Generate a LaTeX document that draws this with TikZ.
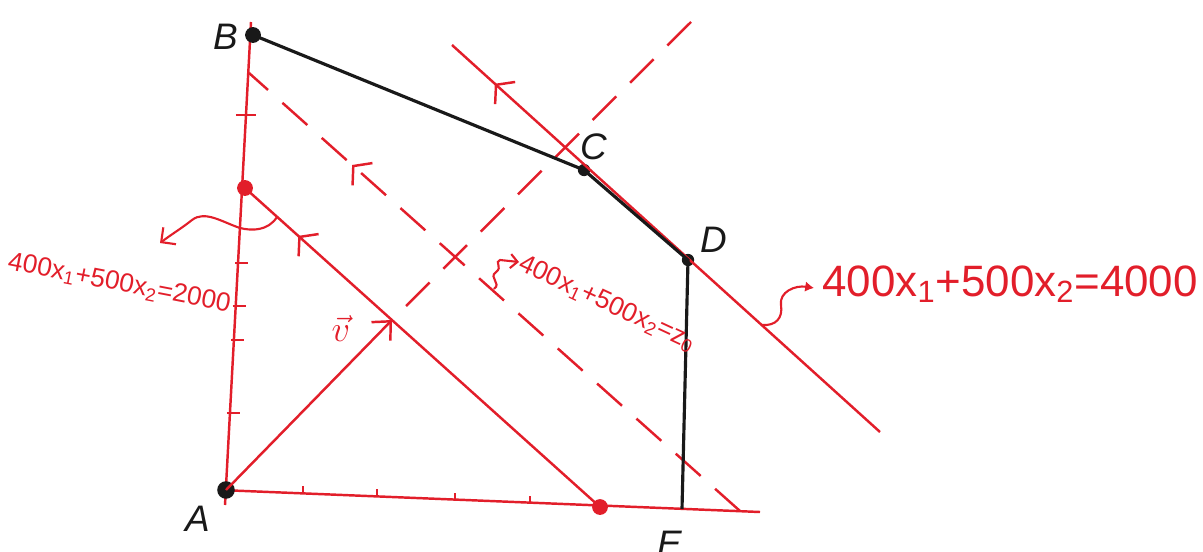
\documentclass[tikz,border=0pt]{standalone}
\usepackage{fontspec}
\setmainfont{Liberation Sans}
\usepackage{xcolor}
\usetikzlibrary{arrows.meta,decorations.markings,calc}

\definecolor{penred}{RGB}{226,30,42}
\definecolor{penblack}{RGB}{25,25,25}

\begin{document}
\begin{tikzpicture}[
    x=0.02cm, y=-0.02cm,
    redline/.style={draw=penred, line width=1.4pt},
    dashline/.style={redline, dash pattern=on 19pt off 11pt},
    blackline/.style={draw=penblack, line width=1.8pt},
    tick/.style={draw=penred, line width=1.2pt},
    chevron/.style={postaction={decorate}, decoration={markings, mark=at position #1 with {\arrow[penred, line width=1.4pt]{Straight Barb[length=7pt, width=17pt]}}}},
    vecarrow/.style={redline, -{Straight Barb[length=8pt, width=15pt]}},
    pointer/.style={draw=penred, line width=1.2pt},
    dot/.style={circle, inner sep=0pt, minimum size=#1, fill=penblack},
    reddot/.style={circle, inner sep=0pt, minimum size=#1, fill=penred},
    letter/.style={text=penblack, font=\fontsize{21}{24}\selectfont\itshape},
    eqn/.style={text=penred, inner sep=0pt, anchor=west}
]
\useasboundingbox (0,0) rectangle (1203,551);

% axes
\coordinate (yBot) at (225,505);
\coordinate (yTop) at (251,22);
\coordinate (xStart) at (220,490);
\coordinate (xEnd) at (760,512);
\draw[redline] (yBot) -- (yTop);
\draw[redline] (xStart) -- (xEnd);
\foreach \ty in {263,306,340,413}
    \draw[tick] ($(yBot)!{(505-\ty)/483}!(yTop)$) ++(-3,0) -- ++(13,0);
\draw[tick] ($(yBot)!{(505-115)/483}!(yTop)$) ++(-10,0) -- ++(20,0);
\foreach \tx in {303,377,455,530}
    \draw[tick] ($(xStart)!{(\tx-220)/540}!(xEnd)$) -- ++(0,-7);

% points
\node[dot=10pt] (A) at (226,490) {};
\node[dot=9pt] (B) at (253,35) {};
\node[dot=7pt] (C) at (584,170) {};
\node[dot=7pt] (D) at (688,260) {};
\coordinate (E) at (682,509);
\node[reddot=9pt] (y2000) at (245,188) {};
\node[reddot=9pt] (x2000) at (600,507) {};
\coordinate (vtip) at (392,320);
\coordinate (perpEnd) at (695,18);
\coordinate (z0Start) at (249,73);
\coordinate (z0End) at (740,511);
\coordinate (top4000) at (452,45);
\coordinate (bot4000) at (880,432);

% level lines
\draw[redline, chevron=0.85] (x2000.center) -- (y2000.center);
\draw[dashline, chevron=0.79] (z0End) -- (z0Start);
\draw[redline, chevron=0.9] (bot4000) -- (top4000);
\draw[dashline] (vtip) ++(14,-14) -- (perpEnd);
\draw[vecarrow] (A.center) -- (vtip);

% feasible region
\draw[blackline] (B.center) -- (C.center) -- (D.center) -- (E);

% labels
\node[letter] (labA) at (198,519) {A};
\node[letter] (labB) at (226,37) {B};
\node[letter] (labC) at (594,147) {C};
\node[letter] (labD) at (714,240) {D};
\node[letter] (labE) at (670,544) {E};
\node[text=penred, font=\fontsize{22}{24}\selectfont] (labv) at (341,329) {$\vec{v}$};

% pointers to the lines
\coordinate (arc2000) at (277,217);
\coordinate (tip2000) at (160,243);
\draw[pointer, -{Straight Barb[length=6pt, width=12pt]}] (arc2000) .. controls (268,231) and (252,231) .. (240,228)
    .. controls (222,222) and (205,210) .. (192,220) .. controls (182,228) and (172,234) .. (tip2000);
\node[eqn, rotate=-11, font=\fontsize{15}{18}\selectfont] (eq2000) at (8,262) {400x\textsubscript{1}+500x\textsubscript{2}=2000};

\coordinate (arc4000) at (762,325);
\coordinate (tip4000) at (814,288);
\draw[pointer, -{Latex[length=5pt, width=6pt]}] (arc4000) .. controls (776,326) and (783,318) .. (781,305)
    .. controls (779,292) and (795,285) .. (tip4000);
\node[eqn, font=\fontsize{25}{28}\selectfont] (eq4000) at (822,284) {400x\textsubscript{1}+500x\textsubscript{2}=4000};

\coordinate (arcz0) at (494,289);
\coordinate (tipz0) at (519,262);
\draw[pointer, -{Straight Barb[length=4pt, width=8pt]}] (arcz0) .. controls (502,283) and (488,278) .. (496,272)
    .. controls (503,267) and (494,262) .. (500,260) -- (tipz0);
\node[eqn, rotate=-25, font=\fontsize{15}{18}\selectfont] (eqz0) at (520,263) {400x\textsubscript{1}+500x\textsubscript{2}=z\textsubscript{0}};

\end{tikzpicture}
\end{document}
